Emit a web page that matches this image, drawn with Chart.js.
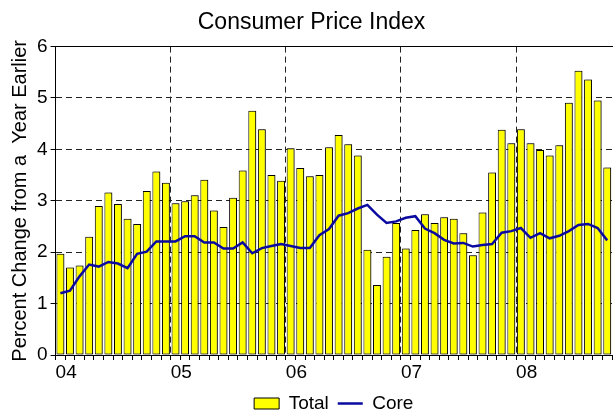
<!DOCTYPE html>
<html lang="en">
  <head>
    <meta charset="UTF-8" />
    <title>Consumer Price Index</title>
    <style>
      body {
        margin: 0;
        background-color: #ffffff;
        overflow: hidden;
      }
      #wrap {
        width: 615px;
        height: 413px;
      }
    </style>
    <script src="https://cdn.jsdelivr.net/npm/chart.js"></script>
  </head>
  <body>
    <div id="wrap">
      <canvas id="cpi-chart"></canvas>
    </div>
    <script>
      // year labels on the x axis (one per January)
      const yearLabels = ['04', '05', '06', '07', '08'];
      const monthNames = ['Jan', 'Feb', 'Mar', 'Apr', 'May', 'Jun', 'Jul', 'Aug', 'Sep', 'Oct', 'Nov', 'Dec'];

      // monthly categories, Jan 2004 .. Oct 2008
      const months = [];
      yearLabels.forEach((yr) => {
        monthNames.forEach((m) => {
          if (months.length < 58) months.push(m + ' ' + yr);
        });
      });

      // percent change from a year earlier
      const totalCPI = [
        1.97, 1.70, 1.74, 2.30, 2.90, 3.16, 2.94, 2.65, 2.55, 3.19, 3.57, 3.35,
        2.95, 2.99, 3.11, 3.41, 2.81, 2.49, 3.06, 3.59, 4.75, 4.39, 3.50, 3.39,
        4.02, 3.64, 3.48, 3.50, 4.04, 4.28, 4.10, 3.88, 2.05, 1.36, 1.91, 2.57,
        2.07, 2.43, 2.74, 2.57, 2.68, 2.65, 2.37, 1.94, 2.77, 3.55, 4.38, 4.12,
        4.39, 4.12, 3.99, 3.88, 4.08, 4.91, 5.53, 5.36, 4.95, 3.65
      ];
      const coreCPI = [
        1.20, 1.25, 1.53, 1.76, 1.72, 1.81, 1.78, 1.69, 1.97, 2.01, 2.21, 2.21,
        2.21, 2.31, 2.31, 2.19, 2.19, 2.07, 2.07, 2.19, 1.98, 2.08, 2.12, 2.16,
        2.12, 2.08, 2.08, 2.33, 2.45, 2.71, 2.76, 2.85, 2.92, 2.73, 2.57, 2.60,
        2.67, 2.70, 2.46, 2.37, 2.24, 2.17, 2.18, 2.11, 2.14, 2.16, 2.38, 2.41,
        2.47, 2.28, 2.37, 2.27, 2.32, 2.41, 2.53, 2.55, 2.47, 2.23
      ];
      const yTicks = [0, 1, 2, 3, 4, 5, 6];

      // bars sit in the middle of each month slot
      const toPoints = (arr) => arr.map((v, i) => ({ x: i + 0.5, y: v }));

      const FONT = 'Liberation Sans, Arial, sans-serif';

      // grey drop shadow behind the bars
      const barShadow = {
        id: 'barShadow',
        beforeDatasetDraw(chart, args) {
          if (args.index !== 0) return;
          const c = chart.ctx;
          c.save();
          c.shadowColor = 'rgba(0,0,0,0.45)';
          c.shadowOffsetX = 1.5;
          c.shadowOffsetY = 0;
          c.shadowBlur = 0;
        },
        afterDatasetDraw(chart, args) {
          if (args.index !== 0) return;
          chart.ctx.restore();
        }
      };

      const ctx = document.getElementById('cpi-chart').getContext('2d');
      const chart = new Chart(ctx, {
        type: 'bar',
        data: {
          datasets: [
            {
              label: 'Total',
              data: toPoints(totalCPI),
              backgroundColor: '#ffff00',
              borderColor: '#000000',
              borderWidth: 1,
              borderSkipped: false,
              barPercentage: 0.82,
              categoryPercentage: 1.0,
              order: 2
            },
            {
              type: 'line',
              label: 'Core',
              data: toPoints(coreCPI),
              borderColor: '#0a0aa0',
              backgroundColor: '#0a0aa0',
              borderWidth: 2.5,
              pointRadius: 0,
              tension: 0,
              order: 1
            }
          ]
        },
        options: {
          responsive: true,
          maintainAspectRatio: false,
          animation: false,
          events: [],
          layout: { padding: { top: 3, right: 0, bottom: -10, left: 8 } },
          plugins: {
            title: {
              display: true,
              text: 'Consumer Price Index',
              color: '#000',
              font: { family: FONT, size: 23, weight: 'normal' },
              padding: { top: 6, bottom: 10 }
            },
            legend: {
              position: 'bottom',
              fullSize: false,
              labels: {
                color: '#000',
                font: { family: FONT, size: 19 },
                usePointStyle: true,
                pointStyleWidth: 25,
                boxHeight: 11,
                padding: 9,
                sort: (a, b) => a.datasetIndex - b.datasetIndex,
                generateLabels: (ch) =>
                  Chart.defaults.plugins.legend.labels.generateLabels(ch).map((l) => ({
                    ...l,
                    pointStyle: l.datasetIndex === 0 ? 'rect' : 'line',
                    lineWidth: l.datasetIndex === 0 ? 1 : 2.5
                  }))
              }
            },
            tooltip: { enabled: false }
          },
          scales: {
            x: {
              type: 'linear',
              min: 0,
              max: months.length,
              offset: false,
              ticks: {
                stepSize: 1,
                autoSkip: false,
                maxRotation: 0,
                align: 'start',
                padding: 3,
                color: '#000',
                font: { family: FONT, size: 19, lineHeight: 1.0 },
                callback: (v) => (v % 12 === 0 && v / 12 < yearLabels.length ? yearLabels[v / 12] : '')
              },
              grid: {
                color: (c) => (c.tick && c.tick.value % 12 === 0 && c.tick.value > 0 ? '#222' : 'rgba(0,0,0,0)'),
                tickColor: '#000',
                tickLength: 5,
                offset: false
              },
              border: { display: true, color: '#000', width: 1, dash: [6, 4] }
            },
            x2: {
              type: 'linear',
              position: 'top',
              min: 0,
              max: months.length,
              ticks: { display: false },
              grid: { drawOnChartArea: false, drawTicks: false },
              border: { display: true, color: '#000', width: 1 }
            },
            y: {
              min: yTicks[0],
              max: yTicks[yTicks.length - 1],
              ticks: {
                stepSize: 1,
                padding: 3,
                color: '#000',
                font: { family: FONT, size: 19 }
              },
              grid: {
                color: (c) => (c.tick && c.tick.value > 0 && c.tick.value < 6 ? '#222' : 'rgba(0,0,0,0)'),
                tickColor: '#000',
                tickLength: 5
              },
              border: { display: true, color: '#000', width: 1, dash: [6, 4] },
              title: {
                display: true,
                text: 'Percent Change from a  Year Earlier',
                color: '#000',
                font: { family: FONT, size: 20 },
                padding: { top: 0, bottom: 2 }
              }
            }
          }
        },
        plugins: [barShadow]
      });
    </script>
  </body>
</html>
